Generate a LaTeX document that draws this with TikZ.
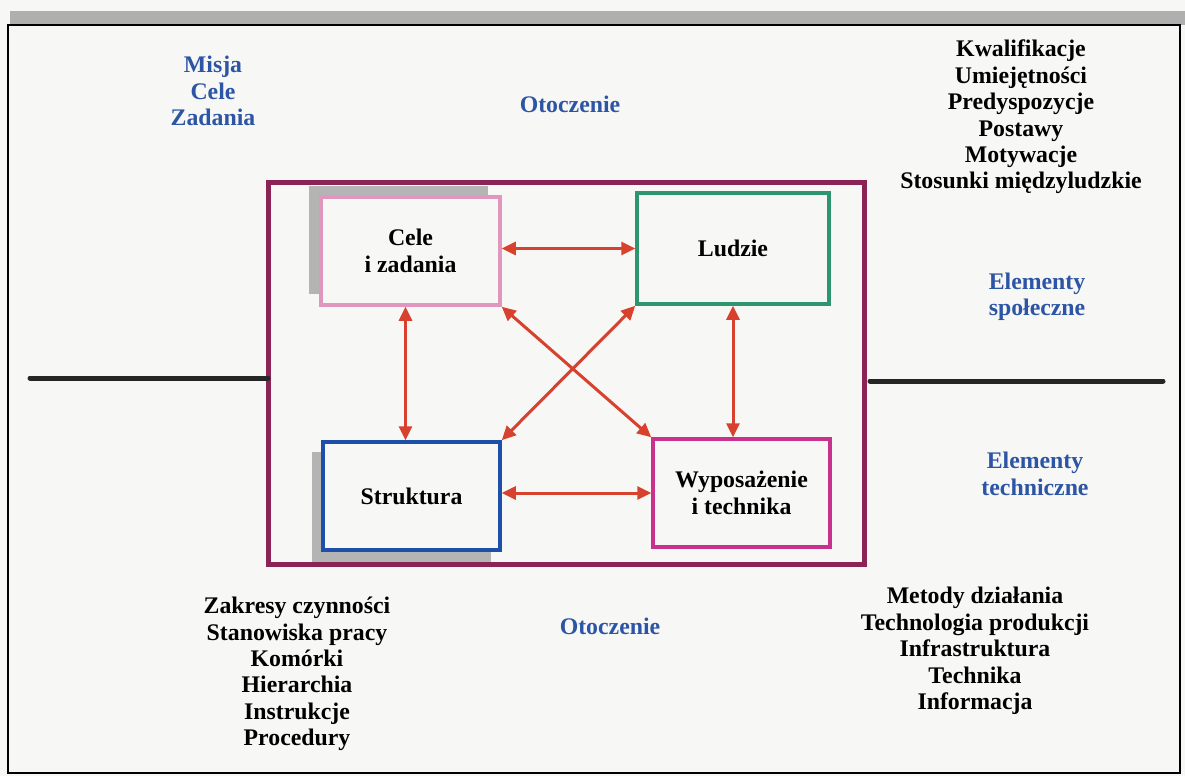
\documentclass[tikz,border=0pt]{standalone}
\usepackage{fontspec}
\setmainfont{Liberation Serif}
\usetikzlibrary{arrows.meta}
\definecolor{paper}{RGB}{247,247,245}
\definecolor{txtblue}{RGB}{45,85,165}
\definecolor{maroon}{RGB}{140,35,85}
\definecolor{pinkc}{RGB}{225,150,190}
\definecolor{greenc}{RGB}{45,150,110}
\definecolor{boxblue}{RGB}{30,80,170}
\definecolor{magc}{RGB}{200,50,140}
\definecolor{arrred}{RGB}{215,65,45}
\definecolor{shadowgray}{RGB}{180,180,180}
\definecolor{bandgray}{RGB}{175,175,175}
\tikzset{
  lab/.style={font=\bfseries\fontsize{23.8}{26.4}\selectfont, align=center, inner sep=0pt},
  bluelab/.style={lab, text=txtblue},
  box/.style={lab, draw, line width=3.5pt, fill=paper},
  arr/.style={draw=arrred, line width=3pt, {Triangle[length=14pt,width=13pt]}-{Triangle[length=14pt,width=13pt]}, fill=arrred},
  divider/.style={line width=5pt, line cap=round, black!85}
}
\begin{document}
\begin{tikzpicture}[x=1pt,y=-1pt]
\useasboundingbox (0,0) rectangle (1185,776);
\fill[paper] (0,0) rectangle (1185,776);
% top grey band and outer frame
\fill[bandgray] (10,11) rectangle (1185,25);
\draw[line width=2pt, black] (8,25) rectangle (1180,773);
% maroon organisation frame
\draw[maroon, line width=5pt] (268,182) rectangle (864,564);
% shadows
\fill[shadowgray] (309,186) rectangle (488,294);
\fill[shadowgray] (312,452) rectangle (491,562);
% boxes
\node[box, draw=pinkc, minimum width=179pt, minimum height=108pt] (cele) at (410.5,251) {Cele\\i zadania};
\node[box, draw=greenc, minimum width=192pt, minimum height=111pt] (ludzie) at (733,248.5) {Ludzie};
\node[box, draw=boxblue, minimum width=177pt, minimum height=108pt] (struktura) at (411.5,496) {Struktura};
\node[box, draw=magc, minimum width=177pt, minimum height=108pt] (wyp) at (741.5,493) {Wyposażenie\\i technika};
% arrows
\draw[arr] (cele.east |- ludzie.west) -- (ludzie.west);
\draw[arr] (struktura.east |- wyp.west) -- (wyp.west);
\draw[arr] ([xshift=-5pt]cele.south) -- ([xshift=-5pt]cele.south |- struktura.north);
\draw[arr] (ludzie.south) -- (ludzie.south |- wyp.north);
\draw[arr] (cele.south east) -- (wyp.north west);
\draw[arr] (ludzie.south west) -- (struktura.north east);
% dividers
\coordinate (dl1) at (30,378);
\coordinate (dl2) at (268,378);
\coordinate (dr1) at (870,381);
\coordinate (dr2) at (1163,381);
\draw[divider] (dl1) -- (dl2);
\draw[divider] (dr1) -- (dr2);
% labels
\node[bluelab] (misja) at (213,91) {Misja\\Cele\\Zadania};
\node[bluelab] (otoczTop) at (570,104) {Otoczenie};
\node[bluelab] (otoczBot) at (610,626) {Otoczenie};
\node[bluelab] (spol) at (1037,297) {Elementy\\społeczne};
\node[bluelab] (tech) at (1035,474) {Elementy\\techniczne};
\node[lab] (ludzieList) at (1021,117) {Kwalifikacje\\Umiejętności\\Predyspozycje\\Postawy\\Motywacje\\Stosunki międzyludzkie};
\node[lab] (strList) at (297,674) {Zakresy czynności\\Stanowiska pracy\\Komórki\\Hierarchia\\Instrukcje\\Procedury};
\node[lab] (techList) at (975,651) {Metody działania\\Technologia produkcji\\Infrastruktura\\Technika\\Informacja};
\end{tikzpicture}
\end{document}
